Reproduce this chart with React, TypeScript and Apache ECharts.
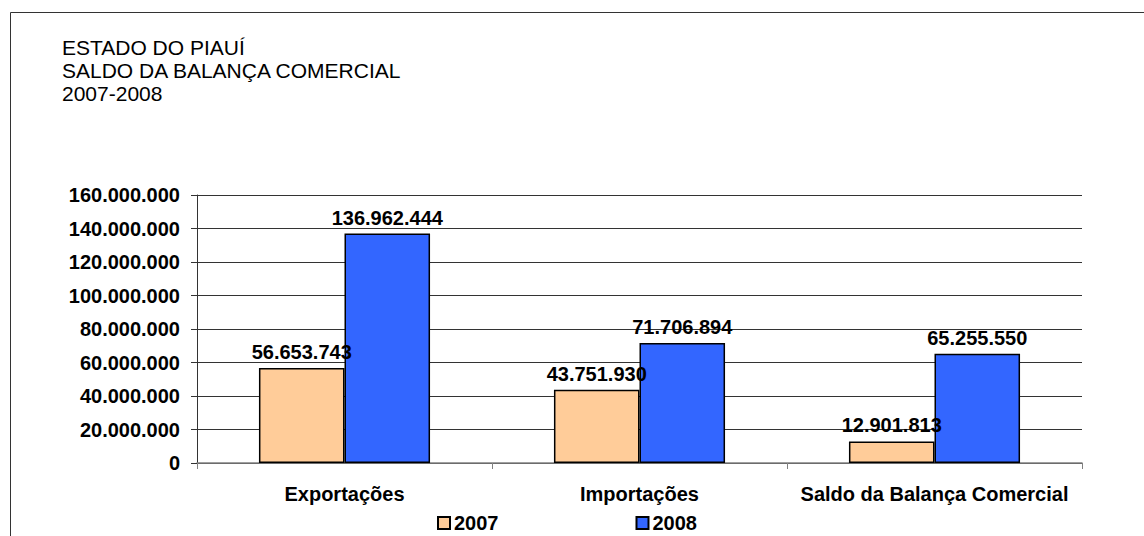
import React, { useEffect, useRef } from "react";
import * as echarts from "echarts";

const categories = ["Exportações", "Importações", "Saldo da Balança Comercial"];
const values2007 = [56653743, 43751930, 12901813];
const values2008 = [136962444, 71706894, 65255550];
const titleLines = ["ESTADO DO PIAUÍ", "SALDO DA BALANÇA COMERCIAL", "2007-2008"];

const fmt = (v: number) => String(Math.round(v)).replace(/\B(?=(\d{3})+(?!\d))/g, ".");

const FONT = "'Liberation Sans', Arial, sans-serif";

export default function App() {
  const ref = useRef<HTMLDivElement>(null);
  useEffect(() => {
    document.body.style.margin = "0";
    const chart = echarts.init(ref.current!, null, { renderer: "svg" });
    const labelStyle = {
      show: true,
      position: "top" as const,
      distance: 6,
      fontFamily: FONT,
      fontWeight: "bold" as const,
      fontSize: 20,
      color: "#000",
      formatter: (p: any) => fmt(p.value),
    };
    chart.setOption({
      animation: false,
      backgroundColor: "#fff",
      textStyle: { fontFamily: FONT },
      title: {
        text: titleLines.join("\n"),
        left: 57,
        top: 31,
        textStyle: {
          fontFamily: FONT,
          fontWeight: "normal",
          fontSize: 21,
          lineHeight: 23,
          color: "#000",
        },
      },
      graphic: [
        {
          type: "rect",
          shape: { x: 10.5, y: 12.5, width: 1300, height: 700 },
          style: { fill: "none", stroke: "#333", lineWidth: 1 },
          silent: true,
        },
      ],
      legend: {
        left: 432,
        top: 508,
        itemWidth: 12,
        itemHeight: 12,
        itemGap: 137,
        icon: "rect",
        textStyle: {
          fontFamily: FONT,
          fontWeight: "bold",
          fontSize: 20,
          color: "#000",
          padding: [0, 0, 0, -1],
        },
        data: ["2007", "2008"],
      },
      grid: { left: 197, right: 62, top: 195, bottom: 73 },
      xAxis: {
        type: "category",
        data: categories,
        axisLine: { lineStyle: { color: "#808080", width: 1.5 } },
        axisTick: { show: true, length: 6, lineStyle: { color: "#808080" } },
        axisLabel: {
          interval: 0,
          hideOverlap: false,
          margin: 21,
          fontFamily: FONT,
          fontWeight: "bold",
          fontSize: 20,
          color: "#000",
        },
      },
      yAxis: {
        type: "value",
        min: 0,
        max: 160000000,
        interval: 20000000,
        axisLine: { show: true, lineStyle: { color: "#333", width: 1 } },
        axisTick: { show: true, length: 6, lineStyle: { color: "#333" } },
        splitLine: { show: true, lineStyle: { color: "#333", width: 1 } },
        axisLabel: {
          margin: 17,
          fontFamily: FONT,
          fontWeight: "bold",
          fontSize: 20,
          color: "#000",
          formatter: (v: number) => fmt(v),
        },
      },
      series: [
        {
          name: "2007",
          type: "bar",
          data: values2007,
          barGap: "0%",
          barCategoryGap: "42%",
          itemStyle: { color: "#FFCC99", borderColor: "#000", borderWidth: 1.5 },
          label: labelStyle,
        },
        {
          name: "2008",
          type: "bar",
          data: values2008,
          barGap: "0%",
          barCategoryGap: "42%",
          itemStyle: { color: "#3366FF", borderColor: "#000", borderWidth: 1.5 },
          label: labelStyle,
        },
      ],
    });
    return () => chart.dispose();
  }, []);
  return <div ref={ref} style={{ width: 1144, height: 536 }} />;
}
